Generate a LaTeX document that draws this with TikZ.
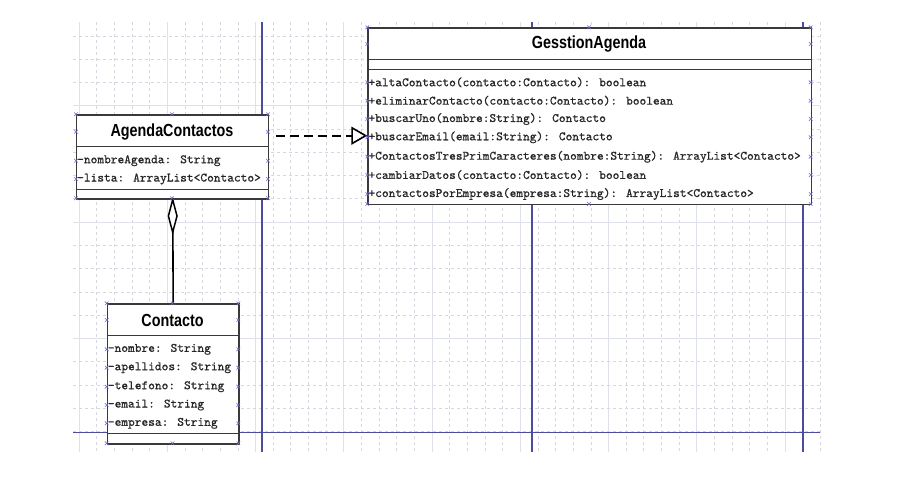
\documentclass[tikz,border=0pt]{standalone}
\usepackage{fontspec}
\setmainfont{Liberation Sans}
\newfontfamily\umlmono[FakeBold=0.6]{lmmono10-regular.otf}
\newfontfamily\umltitle[FakeStretch=0.82]{Liberation Sans}
\usetikzlibrary{arrows.meta}
\definecolor{gridminorc}{HTML}{D6D8E0}
\definecolor{gridmajorc}{HTML}{DEE1EA}
\definecolor{pagec}{HTML}{4B4BA0}
\definecolor{boxc}{HTML}{3A3A3A}
\definecolor{textc}{HTML}{262626}
\definecolor{handlec}{HTML}{6A6AD8}
\tikzset{
 gridminor/.style={gridminorc, line width=0.7pt, dash pattern=on 3pt off 3pt},
 gridmajor/.style={gridmajorc, line width=0.9pt},
 pageline/.style={pagec, line width=1.4pt},
 classbox/.style={draw=boxc, fill=white, line width=1.4pt, rectangle, inner sep=0pt, anchor=north west},
 sepline/.style={boxc, line width=1.4pt},
 classtitle/.style={font=\umltitle\bfseries\fontsize{17.5}{17.5}\selectfont, text=black, inner sep=0pt},
 member/.style={font=\umlmono\fontsize{12.8}{12.8}\selectfont, text=textc, inner sep=0pt, anchor=west},
 aggr/.style={black, line width=1.6pt},
 aggrdiamond/.style={black, fill=white, line width=1.5pt, line join=miter},
 dep/.style={black, line width=1.6pt, dash pattern=on 9pt off 5pt, -{Triangle[open, length=16pt, width=18pt, line width=1.6pt]}},
 handle/.style={handlec, line width=0.6pt},
 hm/.pic={\draw[handle] (-1.8,-1.8)--(1.8,1.8) (-1.8,1.8)--(1.8,-1.8);}
}
\begin{document}
\begin{tikzpicture}[x=1pt,y=-1pt]
\useasboundingbox[fill=white] (0,0) rectangle (904,477);
% grid
\foreach \i in {0,...,42}{%
  \pgfmathsetmacro\gx{79+17.65*\i}%
  \pgfmathtruncatemacro\gm{mod(\i,5)}%
  \ifnum\gm=0 \draw[gridmajor] (\gx,22)--(\gx,452);\else\draw[gridminor] (\gx,22)--(\gx,452);\fi}
\foreach \j in {0,...,17}{%
  \pgfmathsetmacro\gy{35.9+23.27*\j}%
  \pgfmathtruncatemacro\gm{mod(\j+2,5)}%
  \ifnum\gm=0 \draw[gridmajor] (73,\gy)--(820,\gy);\else\draw[gridminor] (73,\gy)--(820,\gy);\fi}
% page borders
\foreach \px in {262,532,803}{\draw[pageline] (\px,22)--(\px,452);}
\draw[pageline] (73,432.7)--(820,432.7);

% AgendaContactos
\node[classbox, minimum width=192pt, minimum height=84pt] (agenda) at (76,114.3) {};
\node[classtitle] (agendaT) at (172,131.7) {AgendaContactos};
\draw[sepline] (76,146.7)--(268,146.7);
\draw[sepline] (76,189.3)--(268,189.3);
\node[member] (a1) at (77,160.7) {-nombreAgenda: String};
\node[member] (a2) at (77,179) {-lista: ArrayList<Contacto>};

% GesstionAgenda
\node[classbox, minimum width=443.4pt, minimum height=176.7pt] (gestion) at (367.3,27.3) {};
\node[classtitle] (gestionT) at (589,44) {GesstionAgenda};
\draw[sepline] (367.3,59.3)--(810.7,59.3);
\draw[sepline] (367.3,69.3)--(810.7,69.3);
\node[member] (g1) at (368.3,82.3) {+altaContacto(contacto:Contacto): boolean};
\node[member] (g2) at (368.3,100.7) {+eliminarContacto(contacto:Contacto): boolean};
\node[member] (g3) at (368.3,119) {+buscarUno(nombre:String): Contacto};
\node[member] (g4) at (368.3,137.3) {+buscarEmail(email:String): Contacto};
\node[member] (g5) at (368.3,156.7) {+ContactosTresPrimCaracteres(nombre:String): ArrayList<Contacto>};
\node[member] (g6) at (368.3,175) {+cambiarDatos(contacto:Contacto): boolean};
\node[member] (g7) at (368.3,194) {+contactosPorEmpresa(empresa:String): ArrayList<Contacto>};

% Contacto
\node[classbox, minimum width=131.6pt, minimum height=140pt] (contacto) at (106.7,303.3) {};
\node[classtitle] (contactoT) at (172.5,320) {Contacto};
\draw[sepline] (106.7,335.7)--(238.3,335.7);
\draw[sepline] (106.7,433.3)--(238.3,433.3);
\node[member] (c1) at (107.7,349.3) {-nombre: String};
\node[member] (c2) at (107.7,367.7) {-apellidos: String};
\node[member] (c3) at (107.7,386.7) {-telefono: String};
\node[member] (c4) at (107.7,405) {-email: String};
\node[member] (c5) at (107.7,423.3) {-empresa: String};

% connectors
\draw[aggr] (contacto.north) -- (agenda.south);
\draw[aggrdiamond] (agenda.south) -- ++(4.3,16.3) -- ++(-4.3,16.3) -- ++(-4.3,-16.3) -- cycle;
\coordinate (depy) at (0,135.7);
\draw[dep] ([xshift=7pt]agenda.east |- depy) -- (gestion.west |- depy);

% selection handles
\foreach \y in {114.3,131.7,160.7,179,198.3}{\pic at (76,\y) {hm}; \pic at (268,\y) {hm};}
\pic at (172,114.3) {hm}; \pic at (172,198.3) {hm};
\foreach \y in {27.3,44,82.3,100.7,119,137.3,156.7,175,194,204}{\pic at (367.3,\y) {hm}; \pic at (810.7,\y) {hm};}
\pic at (589,27.3) {hm}; \pic at (589,204) {hm};
\foreach \y in {303.3,320,349.3,367.7,386.7,405,423.3,443.3}{\pic at (106.7,\y) {hm}; \pic at (238.3,\y) {hm};}
\pic at (172.5,303.3) {hm}; \pic at (172.5,443.3) {hm};
\end{tikzpicture}
\end{document}
